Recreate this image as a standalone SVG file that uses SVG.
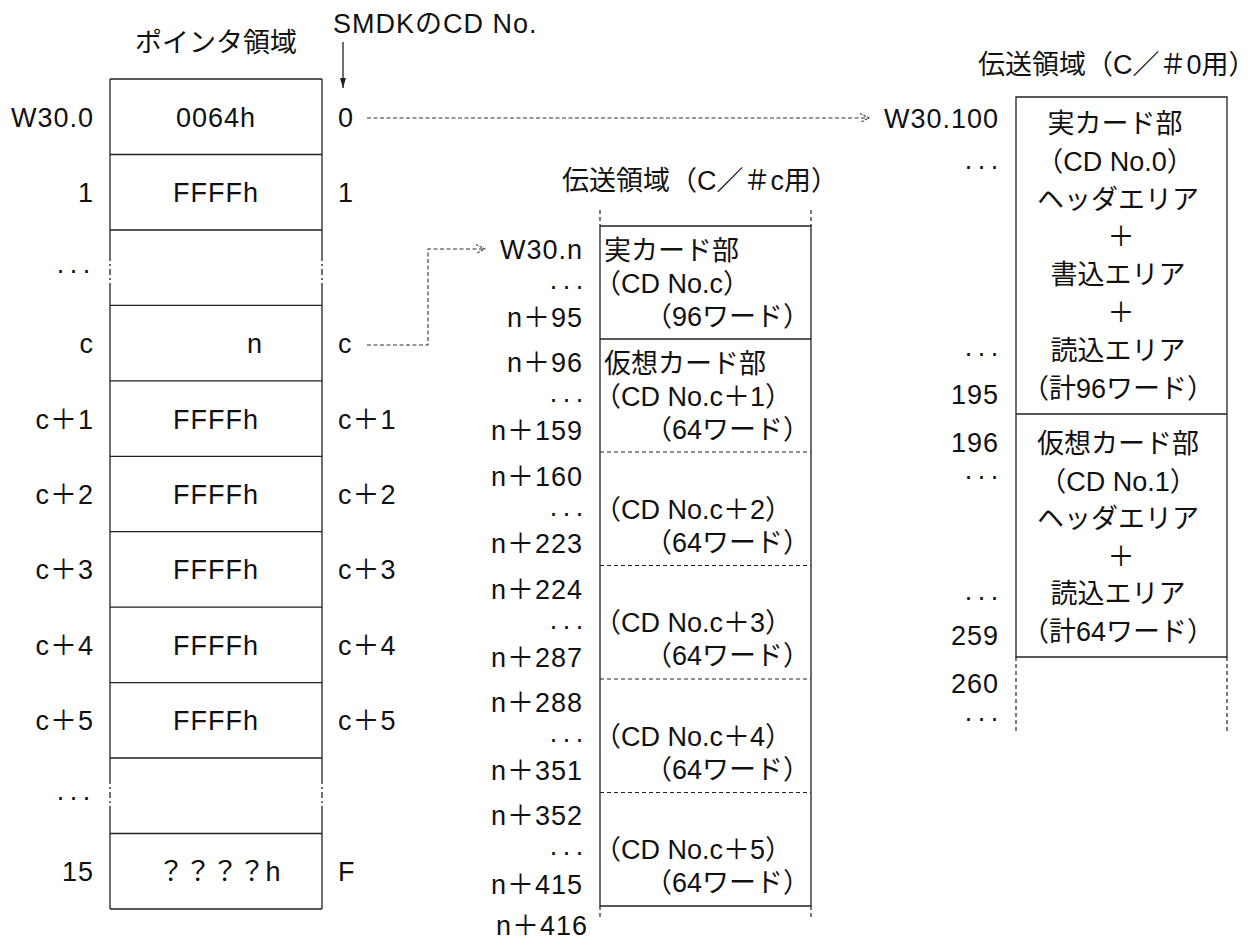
<svg xmlns="http://www.w3.org/2000/svg" width="1258" height="940" viewBox="0 0 1258 940">
<defs>
<style>
.t{font-family:"Liberation Sans","Noto Sans CJK JP",sans-serif;font-size:27px;fill:#111}
.n{letter-spacing:1px}
.e{text-anchor:end}
.m{text-anchor:middle}
.d{letter-spacing:4px}
.ln{stroke:#222;stroke-width:1.3;fill:none}
.ds{stroke:#222;stroke-width:1.2;fill:none;stroke-dasharray:4 3}
.dd{stroke:#222;stroke-width:1.3;fill:none;stroke-dasharray:6 3 2 3}
.cn{stroke:#333;stroke-width:1.1;fill:none;stroke-dasharray:4 2.5}
</style>
<marker id="oa" markerWidth="11" markerHeight="11" refX="10" refY="5" orient="auto" markerUnits="userSpaceOnUse">
<path d="M1,0.5 L10,5 L1,9.5" fill="none" stroke="#333" stroke-width="1.1" stroke-dasharray="2.5 1.5"/>
</marker>
<marker id="fa" markerWidth="11" markerHeight="7" refX="10" refY="3" orient="auto" markerUnits="userSpaceOnUse">
<path d="M0,0 L10,3 L0,6 z" fill="#222"/>
</marker>
</defs>
<rect width="1258" height="940" fill="#fff"/>

<g id="pointer-area">
<text class="t m" x="216" y="52">ポインタ領域</text>
<path class="ln" d="M110,79 H322 M110,154.5 H322 M110,230 H322 M110,305.4 H322 M110,380.8 H322 M110,456.3 H322 M110,531.7 H322 M110,607.2 H322 M110,682.6 H322 M110,758 H322 M110,833.5 H322 M110,909 H322"/>
<path class="ln" d="M110,79 V255 M110,284 V778 M110,812 V909 M322,79 V255 M322,284 V778 M322,812 V909"/>
<path class="dd" d="M110,255 V284 M110,778 V812 M322,255 V284 M322,778 V812"/>
<text class="t n e" x="94" y="127">W30.0</text>
<text class="t n e" x="94" y="202">1</text>
<text class="t d e" x="95" y="279">···</text>
<text class="t n e" x="94" y="353">c</text>
<text class="t n e" x="94" y="429">c＋1</text>
<text class="t n e" x="94" y="504">c＋2</text>
<text class="t n e" x="94" y="579">c＋3</text>
<text class="t n e" x="94" y="655">c＋4</text>
<text class="t n e" x="94" y="730">c＋5</text>
<text class="t d e" x="95" y="806">···</text>
<text class="t n e" x="94" y="881">15</text>
<text class="t n m" x="216" y="127">0064h</text>
<text class="t n m" x="216" y="202">FFFFh</text>
<text class="t n m" x="255" y="353">n</text>
<text class="t n m" x="216" y="429">FFFFh</text>
<text class="t n m" x="216" y="504">FFFFh</text>
<text class="t n m" x="216" y="579">FFFFh</text>
<text class="t n m" x="216" y="655">FFFFh</text>
<text class="t n m" x="216" y="730">FFFFh</text>
<text class="t m" x="219" y="881">？？？？h</text>
<text class="t n" x="338" y="127">0</text>
<text class="t n" x="338" y="202">1</text>
<text class="t n" x="338" y="353">c</text>
<text class="t n" x="338" y="429">c＋1</text>
<text class="t n" x="338" y="504">c＋2</text>
<text class="t n" x="338" y="579">c＋3</text>
<text class="t n" x="338" y="655">c＋4</text>
<text class="t n" x="338" y="730">c＋5</text>
<text class="t n" x="338" y="881">F</text>
</g>

<g id="smdk-label">
<text class="t n" x="333" y="33">SMDKのCD No.</text>
<line class="ln" x1="343" y1="42" x2="343" y2="88" stroke-width="1.1" marker-end="url(#fa)"/>
</g>

<g id="transfer-c">
<text class="t" x="562" y="190">伝送領域（C／＃c用）</text>
<path class="ds" d="M600,210 V226 M811,210 V226 M600,906 V918 M811,906 V918"/>
<path class="ln" d="M600,226 H811 V906 H600 Z M600,339 H811"/>
<path class="ds" d="M600,452 H811 M600,565.5 H811 M600,679 H811 M600,792.5 H811"/>
<text class="t n e" x="583" y="259">W30.n</text>
<text class="t d e" x="588" y="295">···</text>
<text class="t n e" x="583" y="327">n＋95</text>
<text class="t n e" x="583" y="372">n＋96</text>
<text class="t d e" x="588" y="408">···</text>
<text class="t n e" x="583" y="440">n＋159</text>
<text class="t n e" x="583" y="486">n＋160</text>
<text class="t d e" x="588" y="522">···</text>
<text class="t n e" x="583" y="553">n＋223</text>
<text class="t n e" x="583" y="599">n＋224</text>
<text class="t d e" x="588" y="635">···</text>
<text class="t n e" x="583" y="667">n＋287</text>
<text class="t n e" x="583" y="712">n＋288</text>
<text class="t d e" x="588" y="748">···</text>
<text class="t n e" x="583" y="780">n＋351</text>
<text class="t n e" x="583" y="825">n＋352</text>
<text class="t d e" x="588" y="861">···</text>
<text class="t n e" x="583" y="894">n＋415</text>
<text class="t n e" x="588" y="935">n＋416</text>
<text class="t" x="604" y="260">実カード部</text>
<text class="t" x="594" y="293">（CD No.c）</text>
<text class="t" x="645" y="326">（96ワード）</text>
<text class="t" x="604" y="373">仮想カード部</text>
<text class="t" x="594" y="406">（CD No.c＋1）</text>
<text class="t" x="645" y="439">（64ワード）</text>
<text class="t" x="594" y="519">（CD No.c＋2）</text>
<text class="t" x="645" y="552">（64ワード）</text>
<text class="t" x="594" y="632">（CD No.c＋3）</text>
<text class="t" x="645" y="665">（64ワード）</text>
<text class="t" x="594" y="746">（CD No.c＋4）</text>
<text class="t" x="645" y="779">（64ワード）</text>
<text class="t" x="594" y="859">（CD No.c＋5）</text>
<text class="t" x="645" y="892">（64ワード）</text>
</g>

<g id="transfer-0">
<text class="t" x="978" y="74">伝送領域（C／＃0用）</text>
<path class="ln" d="M1016,97 H1227 V657 H1016 Z M1016,414 H1227"/>
<path class="ds" d="M1016,657 V732 M1227,657 V732"/>
<text class="t n e" x="999" y="128">W30.100</text>
<text class="t d e" x="1003" y="175">···</text>
<text class="t d e" x="1003" y="362">···</text>
<text class="t n e" x="999" y="404">195</text>
<text class="t n e" x="999" y="452">196</text>
<text class="t d e" x="1003" y="485">···</text>
<text class="t d e" x="1003" y="606">···</text>
<text class="t n e" x="999" y="645">259</text>
<text class="t n e" x="999" y="693">260</text>
<text class="t d e" x="1003" y="727">···</text>
<text class="t m" x="1115" y="133">実カード部</text>
<text class="t m" x="1115" y="171">（CD No.0）</text>
<text class="t m" x="1118" y="209">ヘッダエリア</text>
<text class="t m" x="1121" y="246">＋</text>
<text class="t m" x="1118" y="284">書込エリア</text>
<text class="t m" x="1121" y="322">＋</text>
<text class="t m" x="1118" y="360">読込エリア</text>
<text class="t m" x="1118" y="398">（計96ワード）</text>
<text class="t m" x="1118" y="453">仮想カード部</text>
<text class="t m" x="1118" y="491">（CD No.1）</text>
<text class="t m" x="1118" y="528">ヘッダエリア</text>
<text class="t m" x="1121" y="566">＋</text>
<text class="t m" x="1118" y="603">読込エリア</text>
<text class="t m" x="1118" y="641">（計64ワード）</text>
</g>

<g id="connectors">
<path class="cn" d="M367,118 H869" marker-end="url(#oa)"/>
<path class="cn" d="M367,345 H428 V249 H485" marker-end="url(#oa)"/>
</g>
</svg>
